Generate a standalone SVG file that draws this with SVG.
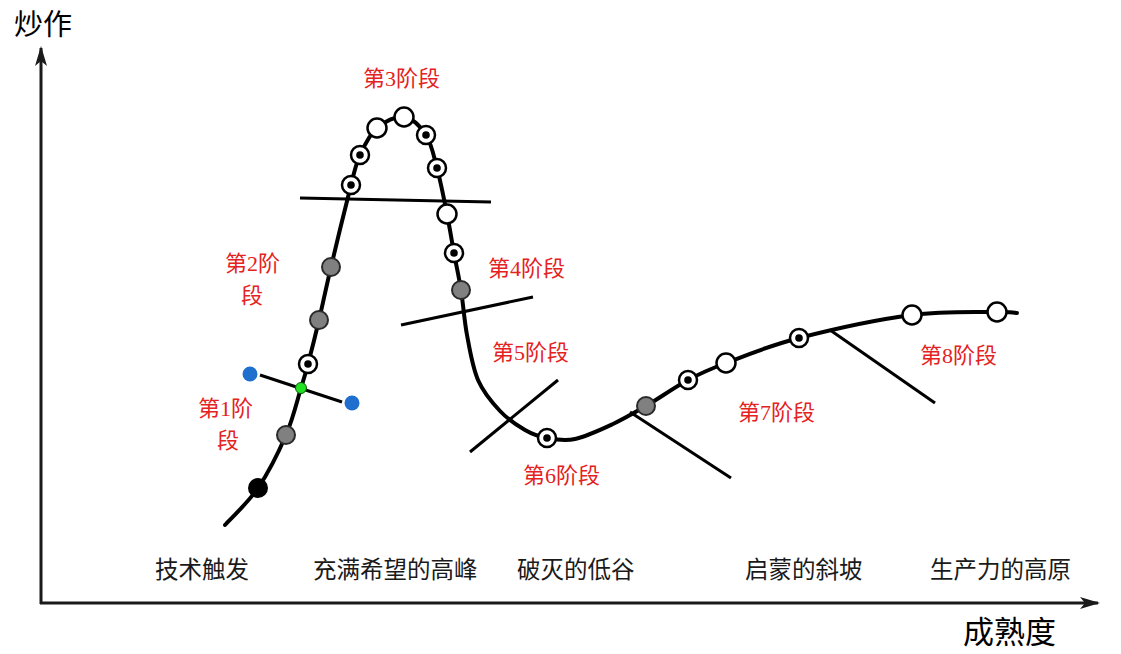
<svg xmlns="http://www.w3.org/2000/svg" xmlns:xlink="http://www.w3.org/1999/xlink" width="1121" height="654" viewBox="0 0 1121 654">
<style>
.axis{stroke:#1a1a1a;stroke-width:3;fill:none}
.curve{stroke:#000;stroke-width:4;fill:none;stroke-linecap:round;stroke-linejoin:round}
.cut{stroke:#000;stroke-width:3;fill:none}
.stage{font-family:"Liberation Serif","Noto Sans CJK SC",serif;font-size:22px;fill:#e52222}
.lbl{font-family:"Liberation Serif","Noto Sans CJK SC",serif;font-size:23.5px;fill:#1a1a1a}
.ax{font-family:"Liberation Serif","Noto Sans CJK SC",serif;fill:#000}
.gray{fill:#808080;stroke:#2a2a2a;stroke-width:2}
.white{fill:#fff;stroke:#000;stroke-width:2.5}
.blk{fill:#000}
.blue{fill:#1f6fcf}
.green{fill:#22e022;stroke:#0a5a0a;stroke-width:1}
</style>
<defs>
<marker id="arr" viewBox="0 0 20 12" refX="18" refY="6" markerWidth="20" markerHeight="12" markerUnits="userSpaceOnUse" orient="auto">
<path d="M0,0 L20,6 L0,12 L5,6 Z" fill="#1a1a1a"/>
</marker>
<g id="tgt"><circle r="9" fill="#fff" stroke="#000" stroke-width="2.5"/><circle r="3.8" fill="#000"/></g>
</defs>
<rect width="1121" height="654" fill="#fff"/>
<g id="axes">
<line class="axis" x1="41" y1="604" x2="41" y2="48" marker-end="url(#arr)"/>
<line class="axis" x1="40" y1="603" x2="1098" y2="603" marker-end="url(#arr)"/>
<text class="ax" x="14" y="35" font-size="29">炒作</text>
<text class="ax" x="963" y="643" font-size="31">成熟度</text>
</g>
<g id="connectors">
<path class="curve" d="M225,525 C230.5,518.8 247.8,503 258,488 C268.2,473 278.8,451.7 286,435 C293.2,418.3 297.3,399.8 301,388 C304.7,376.2 305,375.3 308,364 C311,352.7 315.2,336.2 319,320 C322.8,303.8 325.7,289.5 331,267 C336.3,244.5 346.2,203.7 351,185 C355.8,166.3 355.7,164.5 360,155 C364.3,145.5 369.7,134.3 377,128 C384.3,121.7 395.8,115.8 404,117 C412.2,118.2 420.5,126.5 426,135 C431.5,143.5 433.5,154.8 437,168 C440.5,181.2 444.2,199.8 447,214 C449.8,228.2 451.7,240.3 454,253 C456.3,265.7 458.8,276.3 461,290 C463.2,303.7 464.2,320 467,335 C469.8,350 472.5,367.3 478,380 C483.5,392.7 492.2,402.7 500,411 C507.8,419.3 517.2,425.5 525,430 C532.8,434.5 538.7,436.5 547,438 C555.3,439.5 564,441.3 575,439 C586,436.7 601.2,429.5 613,424 C624.8,418.5 633.5,413.3 646,406 C658.5,398.7 674.7,387.2 688,380 C701.3,372.8 707.5,370 726,363 C744.5,356 768,346 799,338 C830,330 879,319.3 912,315 C945,310.7 979.5,312.3 997,312 C1014.5,311.7 1013.7,312.8 1017,313"/>
<line class="cut" x1="260" y1="375" x2="342" y2="402"/>
<line class="cut" x1="300" y1="198" x2="491" y2="202"/>
<line class="cut" x1="401" y1="325" x2="533" y2="297"/>
<line class="cut" x1="470" y1="452" x2="558" y2="380"/>
<line class="cut" x1="630" y1="412" x2="731" y2="478"/>
<line class="cut" x1="830" y1="330" x2="935" y2="403"/>
</g>
<g id="markers">
<circle class="blk" cx="258" cy="488" r="10"/>
<circle class="gray" cx="286" cy="435" r="9"/>
<circle class="blue" cx="250" cy="374" r="7.5"/>
<circle class="blue" cx="352" cy="403" r="7.5"/>
<circle class="green" cx="301" cy="388" r="5.5"/>
<use xlink:href="#tgt" x="308" y="364"/>
<circle class="gray" cx="319" cy="320" r="9"/>
<circle class="gray" cx="331" cy="267" r="9"/>
<use xlink:href="#tgt" x="351" y="185"/>
<use xlink:href="#tgt" x="360" y="155"/>
<circle class="white" cx="377" cy="128" r="9.5"/>
<circle class="white" cx="404" cy="117" r="9.5"/>
<use xlink:href="#tgt" x="426" y="135"/>
<use xlink:href="#tgt" x="437" y="168"/>
<circle class="white" cx="447" cy="214" r="9.5"/>
<use xlink:href="#tgt" x="454" y="253"/>
<circle class="gray" cx="461" cy="290" r="9"/>
<use xlink:href="#tgt" x="547" y="438"/>
<circle class="gray" cx="646" cy="406" r="9"/>
<use xlink:href="#tgt" x="688" y="380"/>
<circle class="white" cx="726" cy="363" r="9.5"/>
<use xlink:href="#tgt" x="799" y="338"/>
<circle class="white" cx="912" cy="315" r="9.5"/>
<circle class="white" cx="997" cy="312" r="9.5"/>
</g>
<g id="stage1"><text class="stage" x="198" y="416">第1阶</text><text class="stage" x="217" y="448">段</text></g>
<g id="stage2"><text class="stage" x="225" y="271">第2阶</text><text class="stage" x="241" y="303">段</text></g>
<g id="stage3"><text class="stage" x="363" y="86">第3阶段</text></g>
<g id="stage4"><text class="stage" x="488" y="276">第4阶段</text></g>
<g id="stage5"><text class="stage" x="492" y="360">第5阶段</text></g>
<g id="stage6"><text class="stage" x="523" y="483">第6阶段</text></g>
<g id="stage7"><text class="stage" x="738" y="420">第7阶段</text></g>
<g id="stage8"><text class="stage" x="920" y="363">第8阶段</text></g>
<g id="phase-labels">
<text class="lbl" x="155" y="578">技术触发</text>
<text class="lbl" x="313" y="578">充满希望的高峰</text>
<text class="lbl" x="517" y="578">破灭的低谷</text>
<text class="lbl" x="745" y="578">启蒙的斜坡</text>
<text class="lbl" x="930" y="578">生产力的高原</text>
</g>
</svg>
